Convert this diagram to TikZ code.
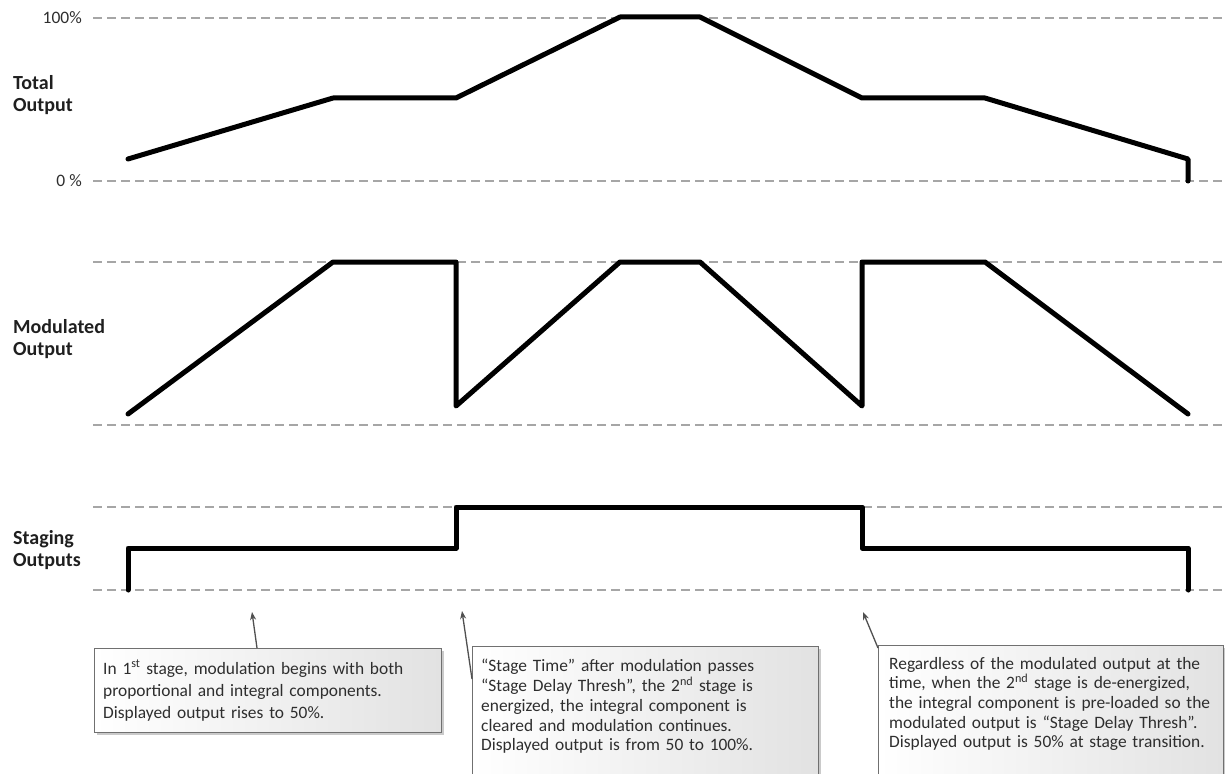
\documentclass[tikz,border=0pt]{standalone}
\usepackage{fontspec}
\setmainfont{Carlito}
\usetikzlibrary{arrows.meta,shadows,calc}
\definecolor{dashgray}{HTML}{A6A6A6}
\definecolor{txtgray}{HTML}{2E2E2E}
\definecolor{boxborder}{HTML}{707070}
\definecolor{arrowgray}{HTML}{505050}
\definecolor{boxright}{HTML}{E2E2E2}
\begin{document}
\begin{tikzpicture}[x=1pt,y=-1pt,
  guide/.style={draw=dashgray, line width=1.1pt, dash pattern=on 9pt off 5pt},
  signal/.style={draw=black, line width=5pt, line join=round, line cap=round},
  rowlabel/.style={font=\fontsize{20}{22.5}\selectfont\bfseries, text=black!88, align=left, anchor=west, inner sep=0pt},
  scalelabel/.style={font=\fontsize{17.5}{20}\selectfont, text=txtgray, anchor=east, inner sep=0pt},
  notebox/.style={draw=boxborder, line width=1.2pt, left color=white, right color=boxright,
    drop shadow={shadow xshift=2.5pt, shadow yshift=-2.5pt, opacity=0.35, fill=black!60},
    anchor=north west, inner sep=0pt},
  notetext/.style={text=txtgray, align=left, anchor=north west, inner sep=0pt, text width=400pt},
  callout/.style={draw=arrowgray, line width=1.3pt, -{Stealth[length=8pt,width=6pt]}}
]
\useasboundingbox (0,0) rectangle (1225,773);
\begin{scope}
\clip (0,0) rectangle (1225,773);

% guide lines
\draw[guide] (93,18) -- (1225,18);
\draw[guide] (93,181) -- (1225,181);
\draw[guide] (93,262) -- (1225,262);
\draw[guide] (93,425) -- (1225,425);
\draw[guide] (93,507) -- (1225,507);
\draw[guide] (93,590) -- (1225,590);

% scale labels
\node[scalelabel] (p100) at (82,18) {100\%};
\node[scalelabel] (p0) at (82,181) {0 \%};

% row labels
\node[rowlabel] (ltotal) at (13,95) {Total\\Output};
\node[rowlabel] (lmod) at (13,339) {Modulated\\Output};
\node[rowlabel] (lstage) at (13,550) {Staging\\Outputs};

% signals
\draw[signal] (128,159) -- (333,98) -- (456,98) -- (620,17) -- (700,17) -- (862,98) -- (985,98) -- (1188,159) -- (1188,181);
\draw[signal] (128,414) -- (333,262) -- (456,262) -- (456,406) -- (620,262) -- (700,262) -- (862,406) -- (862,262) -- (985,262) -- (1188,414);
\draw[signal] (128,590) -- (128,548) -- (456,548) -- (456,507) -- (862,507) -- (862,548) -- (1188,548) -- (1188,590);

% note boxes
\node[notebox, minimum width=347pt, minimum height=84pt] (b1) at (94,648) {};
\node[notebox, minimum width=346pt, minimum height=150pt] (b2) at (472,646) {};
\node[notebox, minimum width=345pt, minimum height=150pt] (b3) at (878,645) {};

\node[notetext, font=\fontsize{17.4}{22}\selectfont] (t1) at ($(b1.north west)+(9,12)$) {In 1\textsuperscript{st} stage, modulation begins with both\\proportional and integral components.\\Displayed output rises to 50\%.};
\node[notetext, font=\fontsize{17.4}{19.8}\selectfont] (t2) at ($(b2.north west)+(9,13)$) {“Stage Time” after modulation passes\\“Stage Delay Thresh”, the 2\textsuperscript{nd} stage is\\energized, the integral component is\\cleared and modulation continues.\\Displayed output is from 50 to 100\%.};
\node[notetext, font=\fontsize{17.4}{19.6}\selectfont] (t3) at ($(b3.north west)+(11,12)$) {Regardless of the modulated output at the\\time, when the 2\textsuperscript{nd} stage is de-energized,\\the integral component is pre-loaded so the\\modulated output is “Stage Delay Thresh”.\\Displayed output is 50\% at stage transition.};

% callouts
\coordinate (a1) at (252,612);
\coordinate (a2) at (462,611);
\coordinate (a3) at (863,612);
\draw[callout] ($(b1.north west)+(163,0)$) -- (a1);
\draw[callout] ($(b2.north west)+(0,33)$) -- (a2);
\draw[callout] ($(b3.north west)+(0,3)$) -- (a3);
\end{scope}
\end{tikzpicture}
\end{document}
